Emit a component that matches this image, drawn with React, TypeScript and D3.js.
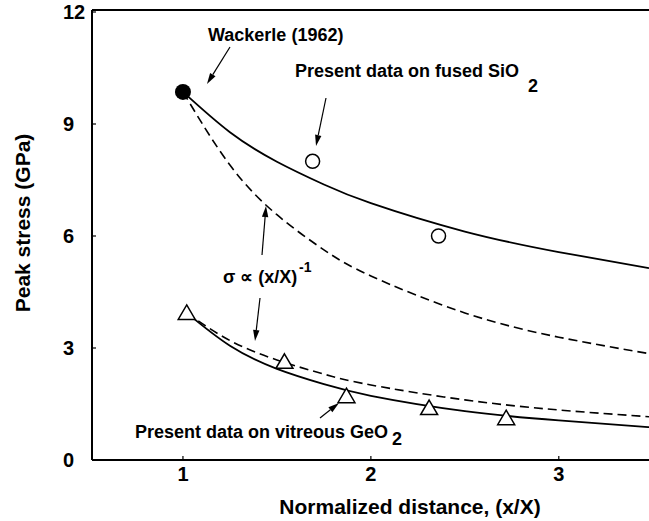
import React from "react";
import * as d3 from "d3";

const W = 649;
const H = 521;

// axis ticks
const xTicks = [1, 2, 3];
const yTicks = [0, 3, 6, 9, 12];

// measured points
const wackerle = [{ x: 1.0, y: 9.86 }];
const sio2Points = [
  { x: 1.69, y: 8.0 },
  { x: 2.36, y: 6.0 },
];
const geo2Points = [
  { x: 1.02, y: 3.94 },
  { x: 1.54, y: 2.63 },
  { x: 1.87, y: 1.71 },
  { x: 2.31, y: 1.39 },
  { x: 2.72, y: 1.12 },
];

// fitted curves
const sio2FitX = [1.0, 1.25, 1.5, 1.75, 2.0, 2.5, 3.0, 3.48];
const sio2FitY = [9.86, 8.78, 7.99, 7.38, 6.88, 6.12, 5.57, 5.14];
const sio2InvX = [1.0, 1.25, 1.5, 1.75, 2.0, 2.5, 3.0, 3.48];
const sio2InvY = [9.86, 7.9, 6.57, 5.63, 4.93, 3.94, 3.29, 2.85];
const geo2FitX = [1.02, 1.25, 1.5, 1.75, 2.0, 2.5, 3.0, 3.48];
const geo2FitY = [3.94, 3.06, 2.44, 2.03, 1.72, 1.31, 1.06, 0.88];
const geo2InvX = [1.02, 1.25, 1.5, 1.75, 2.0, 2.5, 3.0, 3.48];
const geo2InvY = [3.94, 3.2, 2.68, 2.3, 2.01, 1.61, 1.34, 1.16];

const FONT = "'Liberation Sans', Arial, Helvetica, sans-serif";

export default function App() {
  const x = d3.scaleLinear().domain([0.516, 3.48]).range([92, 649]);
  const y = d3.scaleLinear().domain([0, 12]).range([460, 12]);

  const line = d3
    .line<[number, number]>()
    .x((d) => x(d[0]))
    .y((d) => y(d[1]))
    .curve(d3.curveNatural);

  const zip = (a: number[], b: number[]) => a.map((v, i) => [v, b[i]] as [number, number]);

  const tri = (cx: number, cy: number) => {
    const s = 8.5;
    return `M${cx},${cy - 8}L${cx + s},${cy + 6.5}L${cx - s},${cy + 6.5}Z`;
  };

  const Arrow = ({ x1, y1, x2, y2 }: { x1: number; y1: number; x2: number; y2: number }) => {
    const ang = Math.atan2(y2 - y1, x2 - x1);
    const L = 11;
    const Wd = 3.2;
    const bx = x2 - L * Math.cos(ang);
    const by = y2 - L * Math.sin(ang);
    const px = -Math.sin(ang) * Wd;
    const py = Math.cos(ang) * Wd;
    return (
      <g>
        <line x1={x1} y1={y1} x2={bx} y2={by} stroke="#000" strokeWidth={1.2} />
        <path d={`M${x2},${y2}L${bx + px},${by + py}L${bx - px},${by - py}Z`} fill="#000" />
      </g>
    );
  };

  return (
    <svg
      width={W}
      height={H}
      style={{ position: "absolute", left: 0, top: 0, background: "#fff" }}
      fontFamily={FONT}
      fontWeight="bold"
    >
      <rect width={W} height={H} fill="#fff" />
      {/* frame */}
      <line x1={92} y1={10} x2={649} y2={10} stroke="#000" strokeWidth={2} />
      <line x1={92} y1={10} x2={92} y2={460} stroke="#000" strokeWidth={2} />
      <line x1={92} y1={460} x2={649} y2={460} stroke="#000" strokeWidth={2} />

      {/* ticks */}
      {yTicks.map((t) => (
        <g key={"y" + t}>
          <line x1={92} x2={96} y1={y(t)} y2={y(t)} stroke="#000" strokeWidth={1.2} />
          <text x={63} y={y(t) + 7} fontSize={20}>
            {t}
          </text>
        </g>
      ))}
      {xTicks.map((t) => (
        <g key={"x" + t}>
          <line x1={x(t)} x2={x(t)} y1={460} y2={456} stroke="#000" strokeWidth={1.2} />
          <text x={x(t)} y={481} fontSize={20} textAnchor="middle">
            {t}
          </text>
        </g>
      ))}

      {/* axis titles */}
      <text x={410} y={514} fontSize={21} textAnchor="middle">
        Normalized distance, (x/X)
      </text>
      <text transform="translate(30,223) rotate(-90)" fontSize={21} textAnchor="middle">
        Peak stress (GPa)
      </text>

      {/* curves */}
      <path d={line(zip(sio2InvX, sio2InvY)) || ""} fill="none" stroke="#000" strokeWidth={1.6} strokeDasharray="9,5" />
      <path d={line(zip(geo2InvX, geo2InvY)) || ""} fill="none" stroke="#000" strokeWidth={1.6} strokeDasharray="9,5" />
      <path d={line(zip(sio2FitX, sio2FitY)) || ""} fill="none" stroke="#000" strokeWidth={1.8} />
      <path d={line(zip(geo2FitX, geo2FitY)) || ""} fill="none" stroke="#000" strokeWidth={1.8} />

      {/* markers */}
      {wackerle.map((d, i) => (
        <circle key={"w" + i} cx={x(d.x)} cy={y(d.y)} r={8} fill="#000" />
      ))}
      {sio2Points.map((d, i) => (
        <circle key={"s" + i} cx={x(d.x)} cy={y(d.y)} r={7} fill="#fff" stroke="#000" strokeWidth={1.5} />
      ))}
      {geo2Points.map((d, i) => (
        <path key={"g" + i} d={tri(x(d.x), y(d.y))} fill="#fff" stroke="#000" strokeWidth={1.5} />
      ))}

      {/* annotations */}
      <text x={208} y={41} fontSize={18}>
        Wackerle (1962)
      </text>
      <Arrow x1={230} y1={47} x2={207} y2={84} />

      <text x={295} y={77} fontSize={18}>
        Present data on fused SiO
        <tspan x={528} y={92}>2</tspan>
      </text>
      <Arrow x1={326} y1={98} x2={316} y2={146} />

      <text x={223} y={283} fontSize={18}>
        σ ∝ (x/X)
        <tspan fontSize={14} x={299} y={272}>-1</tspan>
      </text>
      <Arrow x1={262} y1={255} x2={266} y2={206} />
      <Arrow x1={260} y1={298} x2={255} y2={341} />

      <text x={135} y={438} fontSize={18}>
        Present data on vitreous GeO
        <tspan x={392} y={445}>2</tspan>
      </text>
      <Arrow x1={320} y1={418} x2={339} y2={403} />
    </svg>
  );
}
